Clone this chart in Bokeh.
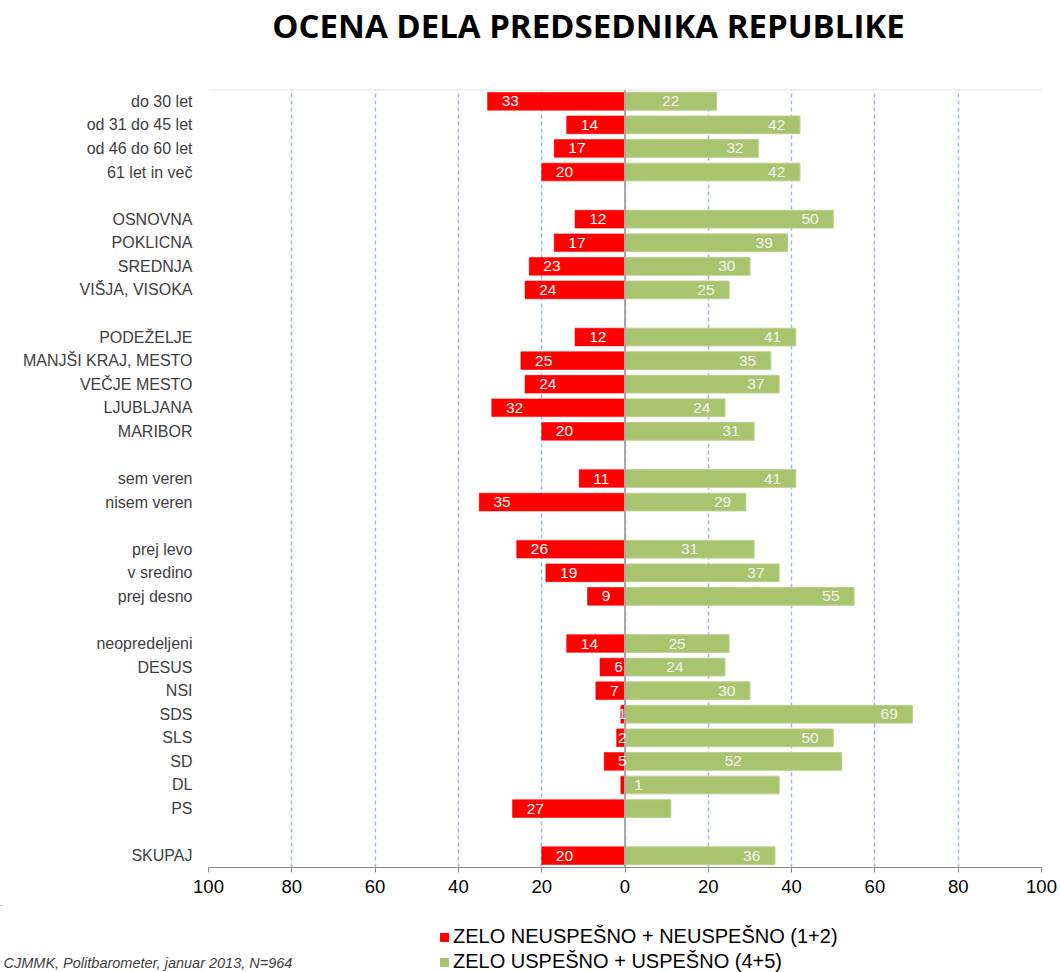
from bokeh.plotting import figure
from bokeh.layouts import column, row
from bokeh.models import (ColumnDataSource, FixedTicker, Span, Legend, LegendItem, LinearAxis)
from bokeh.embed import file_html
from bokeh.resources import INLINE

# ---------------- data ----------------
title_text = "OCENA DELA PREDSEDNIKA REPUBLIKE"
source_note = "CJMMK, Politbarometer, januar 2013, N=964"
series_names = ["ZELO NEUSPEŠNO + NEUSPEŠNO (1+2)", "ZELO USPEŠNO + USPEŠNO (4+5)"]

categories = [
    "do 30 let", "od 31 do 45 let", "od 46 do 60 let", "61 let in več",
    "OSNOVNA", "POKLICNA", "SREDNJA", "VIŠJA, VISOKA",
    "PODEŽELJE", "MANJŠI KRAJ, MESTO", "VEČJE MESTO", "LJUBLJANA", "MARIBOR",
    "sem veren", "nisem veren",
    "prej levo", "v sredino", "prej desno",
    "neopredeljeni", "DESUS", "NSI", "SDS", "SLS", "SD", "DL", "PS",
    "SKUPAJ",
]
group_sizes = [4, 4, 5, 2, 3, 8, 1]

negative = [33, 14, 17, 20,
            12, 17, 23, 24,
            12, 25, 24, 32, 20,
            11, 35,
            26, 19, 9,
            14, 6, 7, 1, 2, 5, 1, 27,
            20]
positive = [22, 42, 32, 42,
            50, 39, 30, 25,
            41, 35, 37, 24, 31,
            41, 29,
            31, 37, 55,
            25, 24, 30, 69, 50, 52, 37, 11,
            36]
negative_labels = ["33", "14", "17", "20",
                   "12", "17", "23", "24",
                   "12", "25", "24", "32", "20",
                   "11", "35",
                   "26", "19", "9",
                   "14", "6", "7", "1", "2", "5", "", "27",
                   "20"]
positive_labels = ["22", "42", "32", "42",
                   "50", "39", "30", "25",
                   "41", "35", "37", "24", "31",
                   "41", "29",
                   "31", "37", "55",
                   "25", "24", "30", "69", "50", "52", "1", "",
                   "36"]
# how each positive label sits in its bar (style)
positive_label_mode = ["center", "end", "end", "end",
                       "end", "end", "end", "end",
                       "end", "end", "end", "end", "end",
                       "end", "end",
                       "center", "end", "end",
                       "center", "center", "end", "end", "end", "center", "base", "end",
                       "end"]

tick_values = [-100, -80, -60, -40, -20, 0, 20, 40, 60, 80, 100]
tick_labels = ["100", "80", "60", "40", "20", "0", "20", "40", "60", "80", "100"]

# ---------------- layout ----------------
RED = "#FF0000"
GREEN = "#A8C46E"
W = 1060
H_HEAD = 60
H_MAIN = 845
H_FOOT = 67
BL, BR, BT, BB = 208, 19, 29, 38


def blank_figure(height, y_top):
    fig = figure(width=W, height=height, x_range=(0, W), y_range=(y_top + height, y_top),
                 output_backend="svg", toolbar_location=None,
                 min_border_left=0, min_border_right=0, min_border_top=0, min_border_bottom=0,
                 x_axis_location=None, y_axis_location=None)
    fig.outline_line_color = None
    fig.xgrid.grid_line_color = None
    fig.ygrid.grid_line_color = None
    fig.background_fill_color = "white"
    fig.border_fill_color = "white"
    return fig


# ---------------- header: title ----------------
hdr = blank_figure(H_HEAD, 0)
hdr.text(x=[588], y=[25], text=[title_text], text_align="center", text_baseline="middle",
         text_font={"value": "Open Sans"}, text_font_style="bold",
         text_font_size="33px", text_color="#000000")

# ---------------- main chart ----------------
ys = []
slot = 0
for gi, n in enumerate(group_sizes):
    for k in range(n):
        ys.append(-slot)
        slot += 1
    if gi < len(group_sizes) - 1:
        slot += 1
n_slots = slot
y_lo, y_hi = -(n_slots - 1) - 0.5, 0.5
x_lo, x_hi = -100, 100

p = figure(width=W, height=H_MAIN, x_range=(x_lo, x_hi), y_range=(y_lo, y_hi),
           output_backend="svg", toolbar_location=None,
           min_border_left=BL, min_border_right=BR, min_border_top=BT, min_border_bottom=BB,
           y_axis_location=None)
p.outline_line_color = None
p.background_fill_color = "white"
p.border_fill_color = "white"

# grid
p.ygrid.grid_line_color = None
p.xgrid.ticker = FixedTicker(ticks=tick_values)
p.xgrid.grid_line_color = "#9FB9E2"
p.xgrid.grid_line_dash = "4 3"
p.xgrid.grid_line_width = 1.5

# x axis
xa = p.xaxis[0]
xa.ticker = FixedTicker(ticks=tick_values)
xa.major_label_overrides = {v: l for v, l in zip(tick_values, tick_labels)}
xa.axis_line_color = "#8C8C8C"
xa.major_tick_line_color = "#8C8C8C"
xa.major_tick_out = 5
xa.major_tick_in = 0
xa.minor_tick_line_color = None
xa.major_label_standoff = 7
xa.major_label_text_font = "Liberation Sans"
xa.major_label_text_font_size = "18.5px"
xa.major_label_text_color = "#000000"

# y axis with category labels
ya = LinearAxis(ticker=FixedTicker(ticks=ys),
                major_label_overrides={y: c for y, c in zip(ys, categories)})
ya.axis_line_color = None
ya.major_tick_line_color = None
ya.minor_tick_line_color = None
ya.major_label_standoff = 10
ya.major_label_text_font = "Liberation Sans"
ya.major_label_text_font_size = "16px"
ya.major_label_text_color = "#404040"
p.add_layout(ya, "left")

# top border line
p.add_layout(Span(location=y_hi, dimension="width", line_color="#E3E3E3", line_width=2))

src = ColumnDataSource(dict(
    y=ys,
    neg_left=[-v for v in negative],
    zero=[0] * len(ys),
    pos=positive,
))
p.hbar(y="y", left="neg_left", right="zero", height=0.75, source=src,
       fill_color=RED, line_color=RED, line_alpha=0.6)
p.hbar(y="y", left="zero", right="pos", height=0.75, source=src,
       fill_color=GREEN, line_color="#B8D088", line_width=1)

# zero line
p.add_layout(Span(location=0, dimension="height", line_color="#A8A8A8", line_width=2, level="glyph"))

# bar labels: negative
nl_x, nl_t, nl_y, nl_align = [], [], [], []
for y, v, t in zip(ys, negative, negative_labels):
    if not t:
        continue
    if v <= 5:
        nl_x.append(0.4)
        nl_align.append("right")
    else:
        nl_x.append(-v + 3.4)
        nl_align.append("left")
    nl_t.append(t)
    nl_y.append(y)
p.text(x=nl_x, y=nl_y, text=nl_t, text_align=nl_align, text_baseline="middle",
       text_color="white", text_font_size="15.5px", text_font={"value": "Liberation Sans"},
       level="annotation")

# bar labels: positive
pl_x, pl_t, pl_y, pl_align = [], [], [], []
for y, v, t, m in zip(ys, positive, positive_labels, positive_label_mode):
    if not t:
        continue
    if m == "center":
        pl_x.append(v / 2)
        pl_align.append("center")
    elif m == "base":
        pl_x.append(2.2)
        pl_align.append("left")
    else:
        pl_x.append(v - 3.5)
        pl_align.append("right")
    pl_t.append(t)
    pl_y.append(y)
p.text(x=pl_x, y=pl_y, text=pl_t, text_align=pl_align, text_baseline="middle",
       text_color="#F4F4F4", text_font_size="15.5px", text_font={"value": "Liberation Sans"},
       level="annotation")

# ---------------- footer: legend + source note ----------------
foot_top = H_HEAD + H_MAIN
f = blank_figure(H_FOOT, foot_top)

# key swatches (kept outside the visible range; only used by the legend)
key_src = ColumnDataSource(dict(y=[-1000], left=[0], right=[1]))
k_neg = f.hbar(y="y", left="left", right="right", height=1, source=key_src,
               fill_color=RED, line_color=RED)
k_pos = f.hbar(y="y", left="left", right="right", height=1, source=key_src,
               fill_color=GREEN, line_color=GREEN)

legend = Legend(items=[LegendItem(label=series_names[0], renderers=[k_neg]),
                       LegendItem(label=series_names[1], renderers=[k_pos])],
                location=(439, -1), orientation="vertical",
                border_line_color=None, background_fill_alpha=0,
                glyph_width=10, glyph_height=10, label_standoff=4,
                spacing=2, label_height=20, padding=0, margin=0,
                label_text_font="Liberation Sans", label_text_font_size="20px",
                label_text_color="#000000")
f.add_layout(legend)

f.text(x=[3], y=[962], text=[source_note], text_align="left", text_baseline="middle",
       text_font={"value": "Liberation Sans"}, text_font_style="italic",
       text_font_size="14.5px", text_color="#404040")

layout = column(row(hdr), p, row(f), spacing=0)
open("out.html", "w").write(file_html(layout, INLINE))
